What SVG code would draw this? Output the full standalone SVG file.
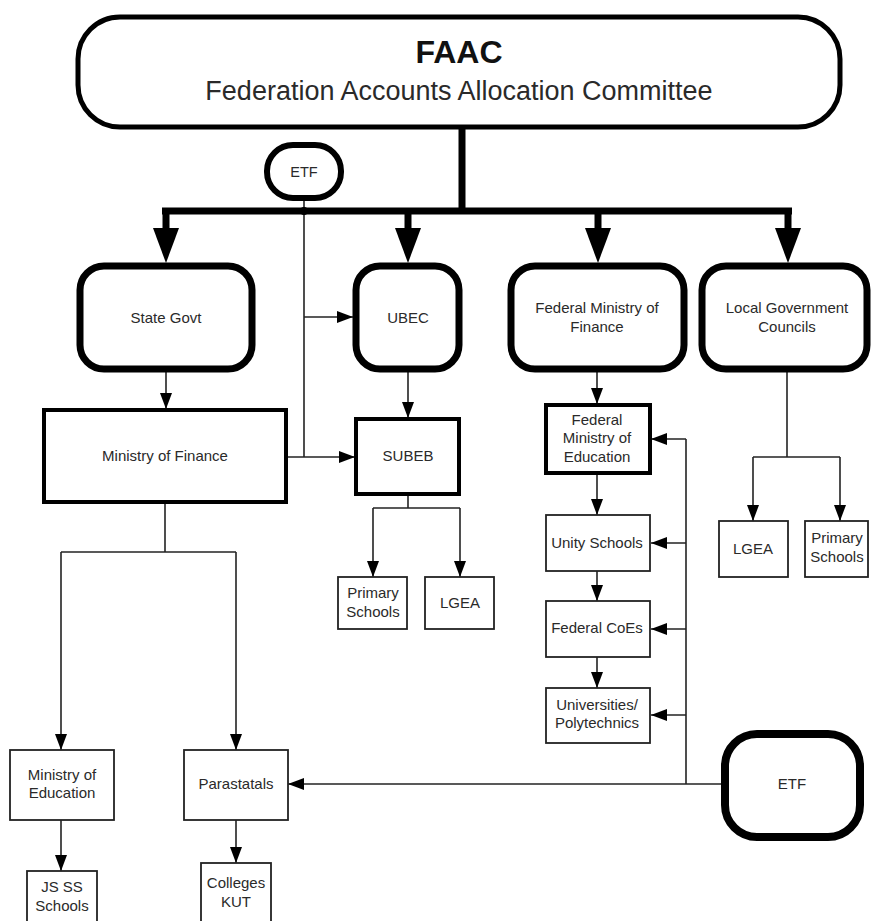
<svg xmlns="http://www.w3.org/2000/svg" width="871" height="921" viewBox="0 0 871 921">
<style>
  text { font-family: "Liberation Sans", Arial, sans-serif; fill: #2a2a2a; text-anchor: middle; font-size: 15px; }
  text.title { font-size: 32px; font-weight: bold; fill: #111; }
  text.sub { font-size: 27px; }
  text.small { font-size: 14.5px; }
  .heavy { fill: #fff; stroke: #000; stroke-width: 7; }
  .mid { fill: #fff; stroke: #000; stroke-width: 4; }
  .thin { fill: #fff; stroke: #222; stroke-width: 1.8; }
  .conn { fill: none; stroke: #222; stroke-width: 1.6; }
  .thick { fill: none; stroke: #000; stroke-width: 7; }
  .head { fill: #000; }
</style>
<defs>
  <marker id="arr" markerUnits="userSpaceOnUse" markerWidth="16" markerHeight="12" refX="16" refY="6" orient="auto">
    <path d="M0,0 L16,6 L0,12 z" fill="#000"/>
  </marker>
</defs>
<rect width="871" height="921" fill="#fff"/>

<g id="connectors">
  <line class="thick" x1="462" y1="127" x2="462" y2="211"/>
  <line class="thick" x1="162" y1="211" x2="792" y2="211"/>
  <line class="thick" x1="166" y1="211" x2="166" y2="232"/>
  <line class="thick" x1="408" y1="211" x2="408" y2="232"/>
  <line class="thick" x1="598" y1="211" x2="598" y2="232"/>
  <line class="thick" x1="788" y1="211" x2="788" y2="232"/>
  <polygon class="head" points="153,228 179,228 166,263"/>
  <polygon class="head" points="395,228 421,228 408,263"/>
  <polygon class="head" points="585,228 611,228 598,263"/>
  <polygon class="head" points="775,228 801,228 788,263"/>
  <line class="conn" x1="304" y1="200" x2="304" y2="457"/>
  <circle cx="304" cy="211" r="4" fill="#000"/>
  <line class="conn" x1="304" y1="317" x2="353" y2="317" marker-end="url(#arr)"/>
  <line class="conn" x1="287" y1="457" x2="355" y2="457" marker-end="url(#arr)"/>
  <line class="conn" x1="166" y1="372" x2="166" y2="409" marker-end="url(#arr)"/>
  <line class="conn" x1="165" y1="503" x2="165" y2="552"/>
  <line class="conn" x1="61" y1="552" x2="236" y2="552"/>
  <line class="conn" x1="61" y1="552" x2="61" y2="750" marker-end="url(#arr)"/>
  <line class="conn" x1="236" y1="552" x2="236" y2="750" marker-end="url(#arr)"/>
  <line class="conn" x1="61" y1="820" x2="61" y2="871" marker-end="url(#arr)"/>
  <line class="conn" x1="236" y1="820" x2="236" y2="863" marker-end="url(#arr)"/>
  <line class="conn" x1="408" y1="372" x2="408" y2="418" marker-end="url(#arr)"/>
  <line class="conn" x1="408" y1="495" x2="408" y2="508"/>
  <line class="conn" x1="373" y1="508" x2="460" y2="508"/>
  <line class="conn" x1="373" y1="508" x2="373" y2="577" marker-end="url(#arr)"/>
  <line class="conn" x1="460" y1="508" x2="460" y2="577" marker-end="url(#arr)"/>
  <line class="conn" x1="597" y1="372" x2="597" y2="404" marker-end="url(#arr)"/>
  <line class="conn" x1="597" y1="474" x2="597" y2="515" marker-end="url(#arr)"/>
  <line class="conn" x1="597" y1="571" x2="597" y2="601" marker-end="url(#arr)"/>
  <line class="conn" x1="597" y1="657" x2="597" y2="688" marker-end="url(#arr)"/>
  <line class="conn" x1="721" y1="784" x2="288" y2="784" marker-end="url(#arr)"/>
  <line class="conn" x1="686" y1="784" x2="686" y2="439"/>
  <line class="conn" x1="686" y1="439" x2="651" y2="439" marker-end="url(#arr)"/>
  <line class="conn" x1="686" y1="543" x2="651" y2="543" marker-end="url(#arr)"/>
  <line class="conn" x1="686" y1="629" x2="651" y2="629" marker-end="url(#arr)"/>
  <line class="conn" x1="686" y1="715" x2="651" y2="715" marker-end="url(#arr)"/>
  <line class="conn" x1="787" y1="372" x2="787" y2="457"/>
  <line class="conn" x1="753" y1="457" x2="840" y2="457"/>
  <line class="conn" x1="753" y1="457" x2="753" y2="521" marker-end="url(#arr)"/>
  <line class="conn" x1="840" y1="457" x2="840" y2="521" marker-end="url(#arr)"/>
</g>

<g id="faac">
  <rect x="78" y="17" width="762" height="110" rx="42" fill="#fff" stroke="#000" stroke-width="5"/>
  <text class="title" x="459" y="63">FAAC</text>
  <text class="sub" x="459" y="100">Federation Accounts Allocation Committee</text>
</g>

<g id="etf-small">
  <rect x="267" y="145" width="74" height="53" rx="26" fill="#fff" stroke="#000" stroke-width="6"/>
  <text class="small" x="304" y="177">ETF</text>
</g>

<g id="state-govt">
  <rect class="heavy" x="80" y="266" width="172" height="103" rx="24"/>
  <text x="166" y="323">State Govt</text>
</g>
<g id="ubec">
  <rect class="heavy" x="356" y="266" width="103" height="103" rx="24"/>
  <text x="408" y="323">UBEC</text>
</g>
<g id="fed-min-finance">
  <rect class="heavy" x="511" y="266" width="173" height="103" rx="24"/>
  <text x="597" y="313">Federal Ministry of</text>
  <text x="597" y="332">Finance</text>
</g>
<g id="lgc">
  <rect class="heavy" x="702" y="266" width="165" height="103" rx="24"/>
  <text x="787" y="313">Local Government</text>
  <text x="787" y="332">Councils</text>
</g>

<g id="ministry-finance">
  <rect class="mid" x="44" y="410" width="242" height="92"/>
  <text x="165" y="461">Ministry of Finance</text>
</g>
<g id="subeb">
  <rect class="mid" x="356" y="419" width="103" height="75"/>
  <text x="408" y="461">SUBEB</text>
</g>
<g id="subeb-primary">
  <rect class="thin" x="338" y="577" width="69" height="52"/>
  <text x="373" y="598">Primary</text>
  <text x="373" y="617">Schools</text>
</g>
<g id="subeb-lgea">
  <rect class="thin" x="425" y="577" width="69" height="52"/>
  <text x="460" y="608">LGEA</text>
</g>

<g id="fed-min-education">
  <rect class="mid" x="546" y="405" width="104" height="68"/>
  <text x="597" y="425">Federal</text>
  <text x="597" y="443">Ministry of</text>
  <text x="597" y="462">Education</text>
</g>
<g id="unity-schools">
  <rect class="thin" x="546" y="515" width="104" height="56"/>
  <text x="597" y="548">Unity Schools</text>
</g>
<g id="federal-coes">
  <rect class="thin" x="546" y="601" width="104" height="56"/>
  <text x="597" y="633">Federal CoEs</text>
</g>
<g id="universities">
  <rect class="thin" x="546" y="688" width="104" height="55"/>
  <text x="597" y="710">Universities/</text>
  <text x="597" y="728">Polytechnics</text>
</g>

<g id="lgc-lgea">
  <rect class="thin" x="719" y="521" width="69" height="56"/>
  <text x="753" y="554">LGEA</text>
</g>
<g id="lgc-primary">
  <rect class="thin" x="805" y="521" width="63" height="56"/>
  <text x="837" y="543">Primary</text>
  <text x="837" y="562">Schools</text>
</g>

<g id="ministry-education">
  <rect class="thin" x="10" y="750" width="104" height="70"/>
  <text x="62" y="780">Ministry of</text>
  <text x="62" y="798">Education</text>
</g>
<g id="parastatals">
  <rect class="thin" x="184" y="750" width="104" height="70"/>
  <text x="236" y="789">Parastatals</text>
</g>
<g id="js-ss-schools">
  <rect class="thin" x="27" y="871" width="70" height="60"/>
  <text x="62" y="892">JS SS</text>
  <text x="62" y="911">Schools</text>
</g>
<g id="colleges-kut">
  <rect class="thin" x="201" y="863" width="70" height="68"/>
  <text x="236" y="888">Colleges</text>
  <text x="236" y="907">KUT</text>
</g>

<g id="etf-big">
  <rect x="725" y="734" width="135" height="103" rx="32" fill="#fff" stroke="#000" stroke-width="8"/>
  <text x="792" y="789">ETF</text>
</g>
</svg>
